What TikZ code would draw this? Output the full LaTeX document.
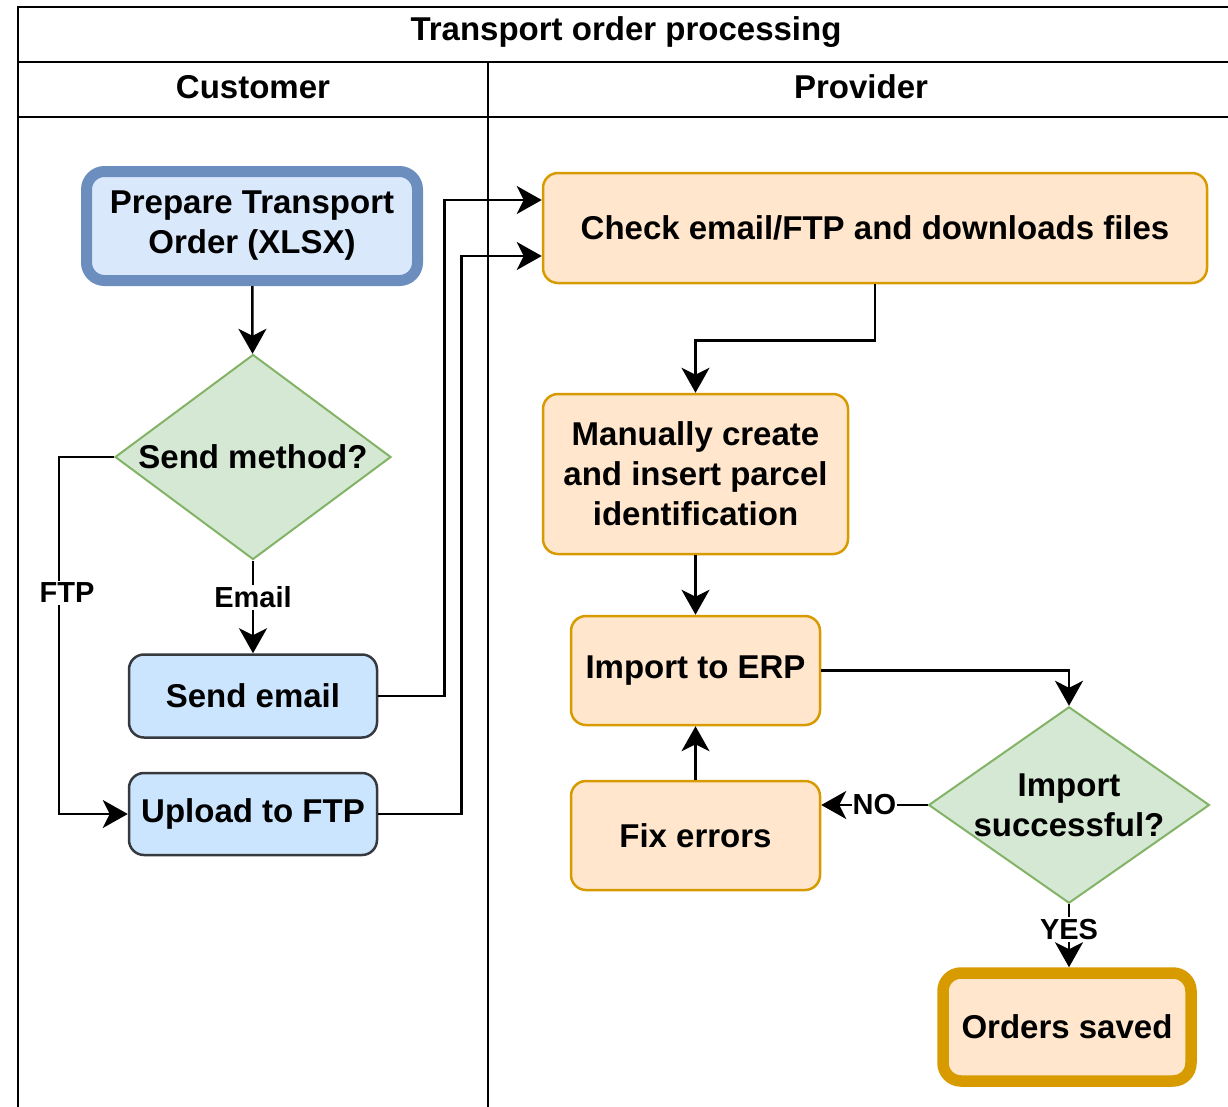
\documentclass[tikz,border=0pt]{standalone}
\usepackage{fontspec}
\setmainfont{Liberation Sans}
\usetikzlibrary{positioning, shapes.geometric, arrows.meta}
\definecolor{custFill}{HTML}{CCE5FF}
\definecolor{custDraw}{HTML}{36393D}
\definecolor{prepFill}{HTML}{DAE8FC}
\definecolor{prepDraw}{HTML}{6C8EBF}
\definecolor{provFill}{HTML}{FFE6CC}
\definecolor{provDraw}{HTML}{D79B00}
\definecolor{decFill}{HTML}{D5E8D4}
\definecolor{decDraw}{HTML}{82B366}

\begin{document}
\begin{tikzpicture}[x=1pt, y=-1pt,
    txt/.style={font=\fontsize{33}{40}\selectfont\bfseries, align=center},
    box/.style={txt, draw, rounded corners=15pt, line width=2.5pt, inner sep=0pt},
    custbox/.style={box, draw=custDraw, fill=custFill},
    provbox/.style={box, draw=provDraw, fill=provFill},
    decision/.style={txt, diamond, draw=decDraw, fill=decFill, line width=2pt, inner sep=0pt},
    flow/.style={-{Stealth[length=25pt, width=28pt, inset=7pt]}, line width=2.5pt},
    lbl/.style={font=\fontsize{29}{34}\selectfont\bfseries, fill=white, inner sep=2pt},
    lane/.style={line width=2.5pt}]

    \useasboundingbox (0,0) rectangle (1228,1106);
    \clip (0,0) rectangle (1228,1106);

    % Draw pool and lanes
    \draw[lane] (18,1130) -- (18,7) -- (1250,7);
    \foreach \y in {62, 117} {
      \draw[lane] (18,\y) -- (1250,\y);
    }
    \draw[lane] (488,62) -- (488,1130);
    \node[txt] (pool) at (626,32) {Transport order processing};
    \node[txt] (customer) at (253,87) {Customer};
    \node[txt] (provider) at (861,87) {Provider};

    % Customer lane
    \node[box, draw=prepDraw, fill=prepFill, line width=11pt, rounded corners=18pt, minimum width=331, minimum height=109] (prep) at (252,226) {Prepare Transport\\Order (XLSX)};
    \node[decision, aspect=1.35, minimum width=276, minimum height=205] (meth) at (253,457) {Send method?};
    \node[custbox, minimum width=248, minimum height=83] (email) at (253,696) {Send email};
    \node[custbox, minimum width=248, minimum height=82] (ftp) at (253,814) {Upload to FTP};

    % Provider lane
    \node[provbox, minimum width=664, minimum height=110] (check) at (875,228) {Check email/FTP and downloads files};
    \node[provbox, minimum width=305, minimum height=160] (manual) at (695.5,474) {Manually create\\and insert parcel\\identification};
    \node[provbox, minimum width=249, minimum height=109] (erp) at (695.5,670.5) {Import to ERP};
    \node[provbox, minimum width=249, minimum height=109] (fix) at (695.5,835.5) {Fix errors};
    \node[decision, aspect=1.43, minimum width=276, minimum height=193] (succ) at (1069,805) {Import\\successful?};
    \node[provbox, line width=11.5pt, rounded corners=18pt, minimum width=248, minimum height=108] (saved) at (1067,1027) {Orders saved};

    % Connectors
    \draw[flow] (prep) -- (meth);
    \draw[flow] (meth) -- node[lbl, pos=0.4] {Email} (email);
    \draw[flow] (meth.west) -- ++(-55,0) |- node[lbl, pos=0.19, xshift=8pt] {FTP} (ftp.west);
    \draw[flow] (email.east) -- ++(66,0) |- ([yshift=28pt]check.west);
    \draw[flow] (ftp.east) -- ++(83,0) |- ([yshift=-28pt]check.west);
    \draw[flow] (check.south) -- ++(0,56) -| (manual.north);
    \draw[flow] (manual) -- (erp);
    \draw[flow] (erp.east) -| (succ.north);
    \draw[flow] (succ.west) -- node[lbl, inner sep=1pt] {NO} (succ.west -| fix.east);
    \draw[flow] (succ.south) -- node[lbl, pos=0.4] {YES} (succ.south |- saved.north);
    \draw[flow] (fix) -- (erp);

\end{tikzpicture}
\end{document}
